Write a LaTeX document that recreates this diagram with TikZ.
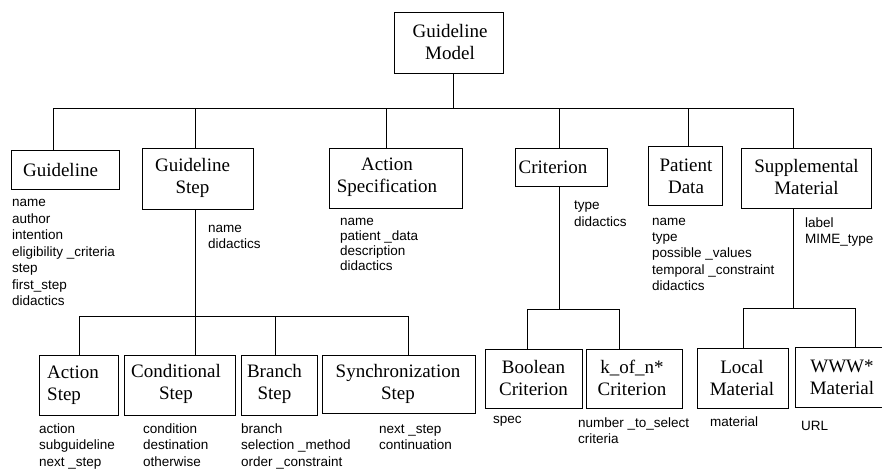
\documentclass[tikz,border=0pt]{standalone}
\usepackage{fontspec}
\setmainfont{Liberation Serif}
\newfontfamily\attrfont{Liberation Sans}
\begin{document}
\begin{tikzpicture}[x=1pt,y=-1pt,
  box/.style={draw, line width=0.9pt, inner sep=0pt},
  boxtxt/.style={font=\fontsize{19}{22}\selectfont, align=center, inner sep=0pt},
  attr/.style={font=\attrfont\fontsize{13.5}{16.5}\selectfont, align=left, anchor=north west, inner sep=0pt, yshift=-2pt},
  conn/.style={line width=0.9pt}]
\useasboundingbox (0,0) rectangle (882,469);
\clip (0,0) rectangle (882,469);

% boxes
\node[box, minimum width=109pt, minimum height=61pt] (gm)  at (448.5,42.5) {};
\node[box, minimum width=108pt, minimum height=39pt] (g)   at (65,169.5) {};
\node[box, minimum width=111pt, minimum height=61pt] (gs)  at (197.5,178.5) {};
\node[box, minimum width=133pt, minimum height=60pt] (as)  at (395.5,178) {};
\node[box, minimum width=92pt,  minimum height=38pt] (cr)  at (561,167) {};
\node[box, minimum width=74pt,  minimum height=59pt] (pd)  at (685,175.5) {};
\node[box, minimum width=130pt, minimum height=60pt] (sm)  at (806,178) {};
\node[box, minimum width=79pt,  minimum height=60pt] (ast) at (78.5,385) {};
\node[box, minimum width=111pt, minimum height=60pt] (cst) at (179.5,385) {};
\node[box, minimum width=76pt,  minimum height=60pt] (bst) at (279,385) {};
\node[box, minimum width=153pt, minimum height=58pt] (sst) at (398.5,384) {};
\node[box, minimum width=97pt,  minimum height=59pt] (bc)  at (533.5,378.5) {};
\node[box, minimum width=96pt,  minimum height=59pt] (kc)  at (634,378.5) {};
\node[box, minimum width=91pt,  minimum height=60pt] (lm)  at (742.5,378) {};
\node[box, minimum width=94pt,  minimum height=60pt] (ww)  at (842,377) {};

% box texts
\node[boxtxt] (gm-t)  at (450,42) {Guideline\\Model};
\node[boxtxt] (g-t)   at (60.5,170) {Guideline};
\node[boxtxt] (gs-t)  at (192.5,178) {Guideline\\Step};
\node[boxtxt] (as-t)  at (387,177) {Action\\Specification};
\node[boxtxt] (cr-t)  at (553,167) {Criterion};
\node[boxtxt] (pd-t)  at (686,176.5) {Patient\\Data};
\node[boxtxt] (sm-t)  at (806.5,177) {Supplemental\\Material};
\node[boxtxt, align=left, anchor=west] (ast-t) at (47,385) {Action\\Step};
\node[boxtxt] (cst-t) at (176,384) {Conditional\\Step};
\node[boxtxt] (bst-t) at (274.5,384) {Branch\\Step};
\node[boxtxt] (sst-t) at (398,384) {Synchronization\\Step};
\node[boxtxt] (bc-t)  at (533.5,378) {Boolean\\Criterion};
\node[boxtxt] (kc-t)  at (632,378) {k\_of\_n*\\Criterion};
\node[boxtxt] (lm-t)  at (742,378) {Local\\Material};
\node[boxtxt] (ww-t)  at (842,377) {WWW*\\Material};

% attributes
\node[attr] (g-a)   at (12,193)  {\strut name\\author\\intention\\eligibility \_criteria\\step\\first\_step\\didactics};
\node[attr] (gs-a)  at (208,218.5) {\strut name\\didactics};
\node[attr, font=\attrfont\fontsize{13.5}{15}\selectfont] (as-a) at (340,213) {\strut name\\patient \_data\\description\\didactics};
\node[attr] (cr-a)  at (574,196)   {\strut type\\didactics};
\node[attr, font=\attrfont\fontsize{13.5}{16.2}\selectfont] (pd-a) at (652,212) {\strut name\\type\\possible \_values\\temporal \_constraint\\didactics};
\node[attr] (sm-a)  at (805,213.5) {\strut label\\MIME\_type};
\node[attr] (ast-a) at (39,419.5)  {\strut action\\subguideline\\next \_step};
\node[attr] (cst-a) at (143,419.5) {\strut condition\\destination\\otherwise};
\node[attr] (bst-a) at (241,419.5) {\strut branch\\selection \_method\\order \_constraint};
\node[attr] (sst-a) at (379,419.5) {\strut next \_step\\continuation};
\node[attr] (bc-a)  at (493,409.5) {\strut spec};
\node[attr] (kc-a)  at (578,413.5) {\strut number \_to\_select\\criteria};
\node[attr] (lm-a)  at (710,413)   {\strut material};
\node[attr] (ww-a)  at (801,416.5) {\strut URL};

% level 1 connectors
\coordinate (t0) at (453,108);
\coordinate (d1) at (53,108);
\coordinate (d2) at (195,108);
\coordinate (d3) at (386,108);
\coordinate (d4) at (559,108);
\coordinate (d5) at (688,108);
\coordinate (d6) at (793,108);
\draw[conn] (gm.south -| t0) -- (t0);
\draw[conn] (d1) -- (d6);
\draw[conn] (d1) -- (d1 |- g.north);
\draw[conn] (d2) -- (d2 |- gs.north);
\draw[conn] (d3) -- (d3 |- as.north);
\draw[conn] (d4) -- (d4 |- cr.north);
\draw[conn] (d5) -- (d5 |- pd.north);
\draw[conn] (d6) -- (d6 |- sm.north);

% guideline step children
\coordinate (e1) at (79,316);
\coordinate (e3) at (275,316);
\coordinate (e4) at (408,316);
\draw[conn] (gs.south -| d2) -- (cst.north -| d2);
\draw[conn] (e1) -- (e4);
\draw[conn] (e1) -- (e1 |- ast.north);
\draw[conn] (e3) -- (e3 |- bst.north);
\draw[conn] (e4) -- (e4 |- sst.north);

% criterion children
\coordinate (f0) at (559,309);
\coordinate (f1) at (527,309);
\coordinate (f2) at (619,309);
\draw[conn] (cr.south -| f0) -- (f0);
\draw[conn] (f1) -- (f2);
\draw[conn] (f1) -- (f1 |- bc.north);
\draw[conn] (f2) -- (f2 |- kc.north);

% supplemental material children
\coordinate (h0) at (793,308);
\coordinate (h1) at (743,308);
\coordinate (h2) at (855,308);
\draw[conn] (sm.south -| h0) -- (h0);
\draw[conn] (h1) -- (h2);
\draw[conn] (h1) -- (h1 |- lm.north);
\draw[conn] (h2) -- (h2 |- ww.north);
\end{tikzpicture}
\end{document}
